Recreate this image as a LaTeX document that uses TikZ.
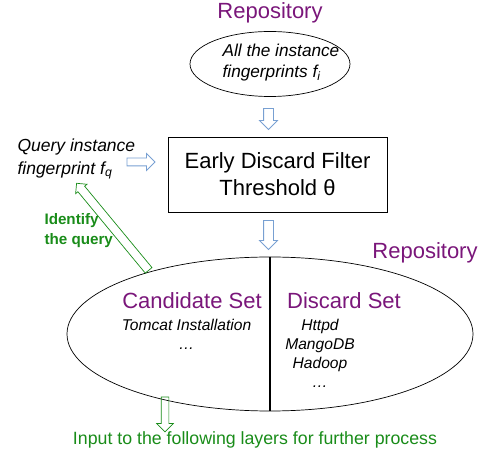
\documentclass[tikz,border=0pt]{standalone}
\usepackage{fontspec}
\setmainfont{Liberation Sans}
\usetikzlibrary{shapes.geometric,shapes.arrows}
\definecolor{repopurple}{RGB}{122,22,122}
\definecolor{querygreen}{RGB}{25,140,25}
\definecolor{flowblue}{RGB}{120,160,210}
\begin{document}
\begin{tikzpicture}[x=1pt, y=-1pt,
    repo/.style={text=repopurple, font=\fontsize{22}{26}\selectfont},
    fptext/.style={font=\fontsize{17.2}{21}\selectfont\itshape, align=left},
    item/.style={font=\fontsize{15.6}{19}\selectfont\itshape, align=center},
    blockarrow/.style={single arrow, draw, inner xsep=0pt, minimum width=0pt},
    bluearrow/.style={blockarrow, draw=flowblue, line width=0.8pt, inner ysep=4.5pt, single arrow head extend=4pt},
    greenarrow/.style={blockarrow, draw=querygreen, line width=0.7pt, inner ysep=3.5pt, single arrow head extend=4.5pt}]
    \useasboundingbox (0,0) rectangle (491,457);
    \node[repo] (repotop) at (270, 13) {Repository};
    \node[ellipse, draw, line width=0.7pt, minimum width=160pt, minimum height=65pt] (allfp) at (270, 64) {};
    \node[fptext] (allfptext) at (281, 63) {All the instance\\fingerprints f\textsubscript{i}};
    \node[bluearrow, minimum height=21pt, rotate=-90] (toparrow) at (268.5, 116.5) {};
    \node[draw, line width=0.7pt, minimum width=219pt, minimum height=75pt, align=center,
        font=\fontsize{22}{27}\selectfont] (filter) at (277.5, 174.5) {Early Discard Filter\\Threshold θ};
    \node[fptext, font=\fontsize{17.5}{23}\selectfont\itshape, anchor=west] (query) at (14, 159) {Query instance\\fingerprint f\textsubscript{q}};
    \node[bluearrow, minimum height=28pt, inner ysep=3.5pt, single arrow head extend=4.5pt] (queryarrow) at (139, 162) {};
    \node[bluearrow, minimum height=29pt, rotate=-90] (midarrow) at (268.5, 232.5) {};
    \node[ellipse, draw, line width=0.7pt, minimum width=406pt, minimum height=154pt] (bigrepo) at (270, 334) {};
    \draw[line width=1.3pt] (bigrepo.north) -- (bigrepo.south);
    \node[repo] (reporight) at (425, 253) {Repository};
    \node[repo] (candidate) at (192, 301) {Candidate Set};
    \node[repo] (discard) at (344, 301) {Discard Set};
    \node[item] (candlist) at (186.5, 334) {Tomcat Installation\\…};
    \node[item] (disclist) at (320, 353) {Httpd\\MangoDB\\Hadoop\\…};
    \node[greenarrow, minimum height=113pt, inner ysep=4pt, single arrow head extend=3pt, rotate=129.6] (identarrow) at (114, 228.5) {};
    \node[text=querygreen, font=\fontsize{15.2}{20}\selectfont\bfseries, align=left, anchor=west] (identify) at (41, 231) {Identify\\the query};
    \node[greenarrow, minimum height=35pt, rotate=-90] (outarrow) at (165, 412.5) {};
    \node[text=querygreen, font=\fontsize{17.75}{21}\selectfont] (output) at (255, 440) {Input to the following layers for further process};
\end{tikzpicture}
\end{document}
